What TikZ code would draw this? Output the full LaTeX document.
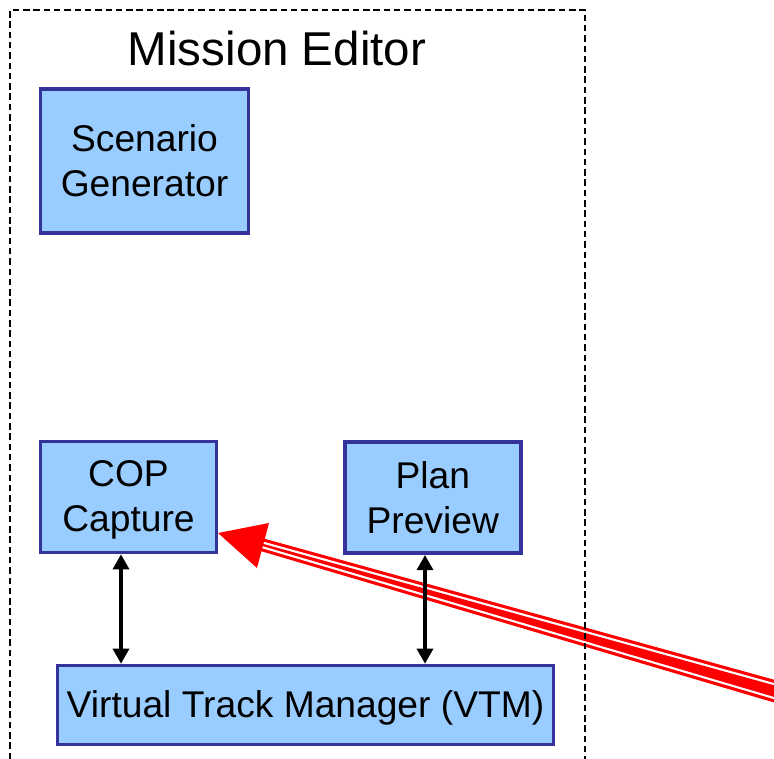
\documentclass[tikz,border=0pt]{standalone}
\usepackage{fontspec}
\setmainfont{Liberation Sans}
\usetikzlibrary{arrows.meta}
\definecolor{boxfill}{HTML}{99CCFF}
\definecolor{boxline}{HTML}{333399}
\newcommand\lnst{\rule[-6pt]{0pt}{38pt}}
\begin{document}
\begin{tikzpicture}[x=1pt,y=-1pt,
  comp/.style={draw=boxline,fill=boxfill,line width=3.6pt,rectangle,inner sep=0pt,align=center,
    font=\fontsize{37.2}{45}\selectfont},
  biarrow/.style={line width=3.2pt,{Triangle[length=15pt,width=16pt]}-{Triangle[length=15pt,width=16pt]}},
  framebox/.style={draw=black,line width=1.7pt,dash pattern=on 6.5pt off 3.8pt}]
\useasboundingbox (0,0) rectangle (774,758);
\clip (0,0) rectangle (774,758);
% red incoming arrow
\coordinate (redtip) at (218,533);
\coordinate (redbase) at (263,545);
\begin{scope}[shift={(redbase)}, rotate=-15.95]
  \fill[red] (-5,-6.4) -- (560,-11.2) -- (560,11.2) -- (-5,6.4) -- cycle;
  \fill[white] (-5,-3.3) -- (560,-8.0) -- (560,8.0) -- (-5,3.3) -- cycle;
  \fill[red] (-5,-1.1) -- (560,-5.8) -- (560,5.8) -- (-5,1.1) -- cycle;
\end{scope}
\fill[red] (redtip) -- (269,523) -- (257,568) -- cycle;
% frame
\draw[framebox] (10,790) -- (10,10) -- (585,10) -- (585,790);
\node[anchor=base,font=\fontsize{47.5}{52}\selectfont] (title) at (277,65) {Mission Editor};
% components
\node[comp,minimum width=208pt,minimum height=144pt] (sg) at (144.5,161.25) {\lnst Scenario\\Generator\lnst};
\node[comp,minimum width=176pt,minimum height=111pt] (cop) at (128.5,497) {\lnst COP\\Capture\lnst};
\node[comp,minimum width=176pt,minimum height=111pt] (plan) at (432.75,497.75) {\lnst Plan\\Preview\lnst};
\node[comp,minimum width=496pt,minimum height=79pt] (vtm) at (305.5,705) {\lnst Virtual Track Manager (VTM)};
% connectors
\coordinate (ax1) at (121,0);
\coordinate (ax2) at (425,0);
\draw[biarrow] (cop.south -| ax1) -- (vtm.north -| ax1);
\draw[biarrow] (plan.south -| ax2) -- (vtm.north -| ax2);
\end{tikzpicture}
\end{document}
